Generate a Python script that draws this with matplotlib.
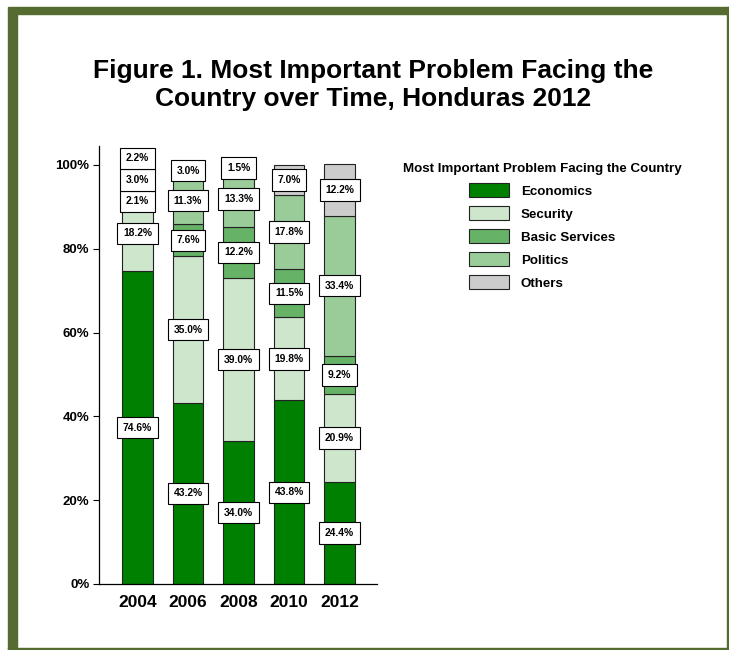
import numpy as np
import matplotlib.pyplot as plt
from matplotlib.patches import Rectangle, Patch

plt.rcParams['font.family'] = ['Liberation Sans', 'DejaVu Sans']

#################################
# Survey shares (%) by year
years = ['2004', '2006', '2008', '2010', '2012']
categories = ['Economics', 'Security', 'Basic Services', 'Politics', 'Others']
economics = [74.6, 43.2, 34.0, 43.8, 24.4]
security = [18.2, 35.0, 39.0, 19.8, 20.9]
basic_services = [2.1, 7.6, 12.2, 11.5, 9.2]
politics = [3.0, 11.3, 13.3, 17.8, 33.4]
others = [2.2, 3.0, 1.5, 7.0, 12.2]
colors = ['#008000', '#cde6cc', '#66b266', '#99cc99', '#cccccc']
#################################


def spread_labels(centers, gap):
    # push overlapping label positions apart, keeping each group centred
    groups = [[c] for c in centers]
    merged = True
    while merged:
        merged = False
        for i in range(len(groups) - 1):
            lo, hi = groups[i], groups[i + 1]
            top_lo = np.mean(lo) + (len(lo) - 1) / 2. * gap
            bot_hi = np.mean(hi) - (len(hi) - 1) / 2. * gap
            if bot_hi - top_lo < gap:
                groups[i] = lo + hi
                del groups[i + 1]
                merged = True
                break
    out = []
    for g in groups:
        m = np.mean(g)
        out += [m + (k - (len(g) - 1) / 2.) * gap for k in range(len(g))]
    return out


fig = plt.figure(figsize=(7.29, 6.5), dpi=100)

# page frame
olive = '#556b2f'
fig.patches.append(Rectangle((8/729., 0), 9/729., 636/650., transform=fig.transFigure, color=olive))
fig.patches.append(Rectangle((8/729., 636/650.), 721/729., 7/650., transform=fig.transFigure, color=olive))
fig.patches.append(Rectangle((727/729., 0), 2/729., 643/650., transform=fig.transFigure, color=olive))
fig.patches.append(Rectangle((8/729., 0), 721/729., 2.5/650., transform=fig.transFigure, color=olive))

fig.text(0.512, 1 - 85/650., 'Figure 1. Most Important Problem Facing the\nCountry over Time, Honduras 2012',
         ha='center', va='center', fontsize=19, fontweight='bold', linespacing=1.18)

ax = fig.add_axes([99/729., 66/650., 278/729., 438/650.])

series = [economics, security, basic_services, politics, others]
x = np.arange(len(years))
bottom = np.zeros(len(years))
handles = []
for vals, col, name in zip(series, colors, categories):
    ax.bar(x, vals, 0.61, bottom=bottom, color=col, edgecolor='#222222', linewidth=0.8, zorder=2)
    handles.append(Patch(facecolor=col, edgecolor='#222222', linewidth=0.8, label=name))
    bottom += np.array(vals)

# value boxes, spread so they do not overlap
for i in range(len(years)):
    vals = [s[i] for s in series]
    tops = np.cumsum(vals)
    centers = tops - np.array(vals) / 2.
    for v, yy in zip(vals, spread_labels(list(centers), 5.15)):
        ax.text(x[i], yy, '%.1f%%' % v, ha='center', va='center', fontsize=7.4,
                fontweight='bold', zorder=5,
                bbox=dict(boxstyle='square,pad=0.55', facecolor='white', edgecolor='black', linewidth=0.8))

ax.set_xlim(-0.76, 4.74)
ax.set_ylim(0, 104.5)
ax.set_yticks(np.arange(0, 101, 20))
ax.set_yticklabels(['%d%%' % t for t in range(0, 101, 20)], fontsize=9.5, fontweight='bold')
ax.set_xticks(x)
ax.set_xticklabels(years, fontsize=12.5, fontweight='bold')
ax.tick_params(axis='x', length=0, pad=8)
ax.tick_params(axis='y', length=4, width=0.8, pad=3)
ax.spines['top'].set_visible(False)
ax.spines['right'].set_visible(False)
for s in ['left', 'bottom']:
    ax.spines[s].set_linewidth(0.9)

fig.text(542/729., 1 - 169/650., 'Most Important Problem Facing the Country',
         ha='center', va='center', fontsize=9.6, fontweight='bold')
fig.legend(handles=handles, loc='upper left', bbox_to_anchor=(464/729., 1 - 178/650.),
           frameon=False, prop={'size': 9.6, 'weight': 'bold'}, handlelength=3.0,
           handleheight=1.25, labelspacing=0.63, handletextpad=0.85, borderaxespad=0)

plt.savefig('out.png', dpi=100)
